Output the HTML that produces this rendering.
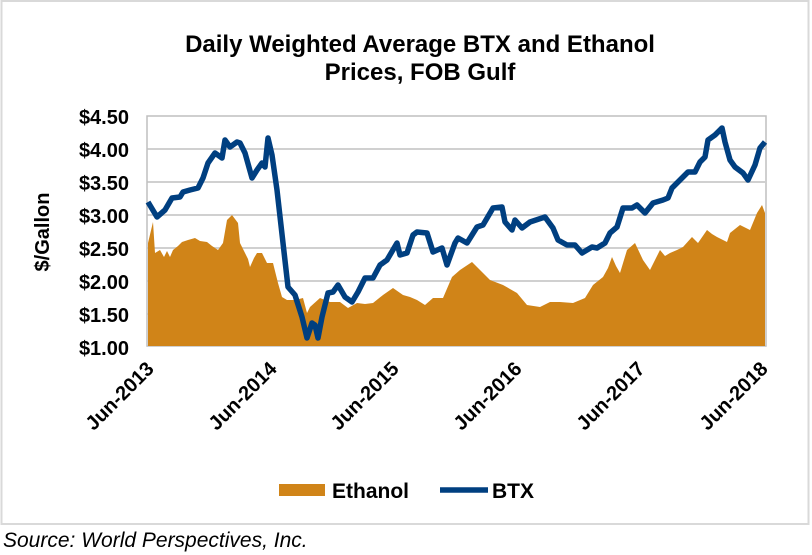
<!DOCTYPE html>
<html><head><meta charset="utf-8"><style>
html,body{margin:0;padding:0;background:#fff;}
svg{display:block;font-family:"Liberation Sans",Arial,sans-serif;}
</style></head><body>
<svg width="812" height="555" viewBox="0 0 812 555" xmlns="http://www.w3.org/2000/svg">
<rect x="1.5" y="1" width="807" height="523" fill="#fff" stroke="#d9d9d9" stroke-width="2"/>
<text x="420" y="52" text-anchor="middle" font-size="24" font-weight="bold" fill="#000">Daily Weighted Average BTX and Ethanol</text>
<text x="420" y="80" text-anchor="middle" font-size="24" font-weight="bold" fill="#000">Prices, FOB Gulf</text>
<g stroke="#d0d0d0" stroke-width="2">
<line x1="147" y1="149" x2="765" y2="149"/><line x1="147" y1="182" x2="765" y2="182"/>
<line x1="147" y1="215" x2="765" y2="215"/><line x1="147" y1="248" x2="765" y2="248"/>
<line x1="147" y1="281" x2="765" y2="281"/><line x1="147" y1="314" x2="765" y2="314"/>
</g>
<rect x="147" y="116" width="619" height="230" fill="none" stroke="#bfbfbf" stroke-width="1.5"/>
<polygon fill="#d08418" points="148,346 148,243 153,222 155,253 160,250 164,257 167,251 170,257 173,250 178,246 182,242 188,240 195,238 200,241 207,242 212,246 218,250 223,243 227,220 232,215 238,223 240,243 245,253 248,259 250,267 254,258 257,253 262,253 267,263 273,263 278,283 282,297 287,300 295,300 303,298 307,313 310,307 320,298 330,302 340,302 348,308 357,303 365,304 373,303 383,295 393,288 403,295 410,297 417,300 425,305 433,298 443,298 452,277 460,270 466,266 472,262 480,270 490,280 503,285 517,293 527,305 540,307 550,302 560,302 573,303 585,298 593,285 603,277 608,268 612,257 616,266 620,273 627,250 635,243 643,260 650,270 660,250 665,256 670,253 677,250 683,247 692,237 698,243 707,230 712,234 717,237 727,242 730,233 740,225 750,230 757,213 762,205 765,213 765,346"/>
<polyline fill="none" stroke="#003f80" stroke-width="5.5" stroke-linejoin="round" points="148,202 157,217 165,210 172,198 180,197 183,192 190,190 198,188 203,178 208,163 215,153 222,158 225,140 230,147 237,142 240,143 245,153 252,178 257,170 262,163 265,167 268,138 272,155 277,190 283,243 288,287 295,295 302,317 307,338 312,323 315,325 318,338 322,317 328,293 333,292 338,285 345,297 352,302 358,292 365,278 373,278 380,265 387,260 397,243 400,255 407,253 413,235 417,232 427,233 433,252 442,248 447,265 455,243 458,238 467,243 477,227 483,225 493,208 502,207 505,222 512,230 515,220 522,228 530,222 545,217 553,228 558,240 567,245 575,245 582,253 592,247 597,248 605,243 610,233 617,227 623,208 632,208 637,205 645,213 653,203 663,200 668,198 672,188 680,180 688,172 695,172 700,162 705,157 708,140 715,135 722,128 725,142 730,160 735,167 743,173 748,180 755,165 760,148 765,142"/>
<g font-size="20" font-weight="bold" text-anchor="end" fill="#000">
<text x="129" y="124">$4.50</text><text x="129" y="157">$4.00</text><text x="129" y="190">$3.50</text>
<text x="129" y="223">$3.00</text><text x="129" y="256">$2.50</text><text x="129" y="289">$2.00</text>
<text x="129" y="322">$1.50</text><text x="129" y="355">$1.00</text>
</g>
<text transform="translate(49,232) rotate(-90)" text-anchor="middle" font-size="20" font-weight="bold">$/Gallon</text>
<g font-size="20" font-weight="bold" text-anchor="end">
<text transform="translate(155,370) rotate(-45)">Jun-2013</text>
<text transform="translate(278,370) rotate(-45)">Jun-2014</text>
<text transform="translate(400,370) rotate(-45)">Jun-2015</text>
<text transform="translate(523,370) rotate(-45)">Jun-2016</text>
<text transform="translate(646,370) rotate(-45)">Jun-2017</text>
<text transform="translate(769,370) rotate(-45)">Jun-2018</text>
</g>
<rect x="279" y="484" width="46" height="12" fill="#d08418"/>
<text x="332" y="498" font-size="21" font-weight="bold">Ethanol</text>
<line x1="440" y1="490" x2="488" y2="490" stroke="#003f80" stroke-width="5.5"/>
<text x="492" y="498" font-size="21" font-weight="bold">BTX</text>
<text x="3" y="547" font-size="21" font-style="italic">Source: World Perspectives, Inc.</text>
</svg>
</body></html>
